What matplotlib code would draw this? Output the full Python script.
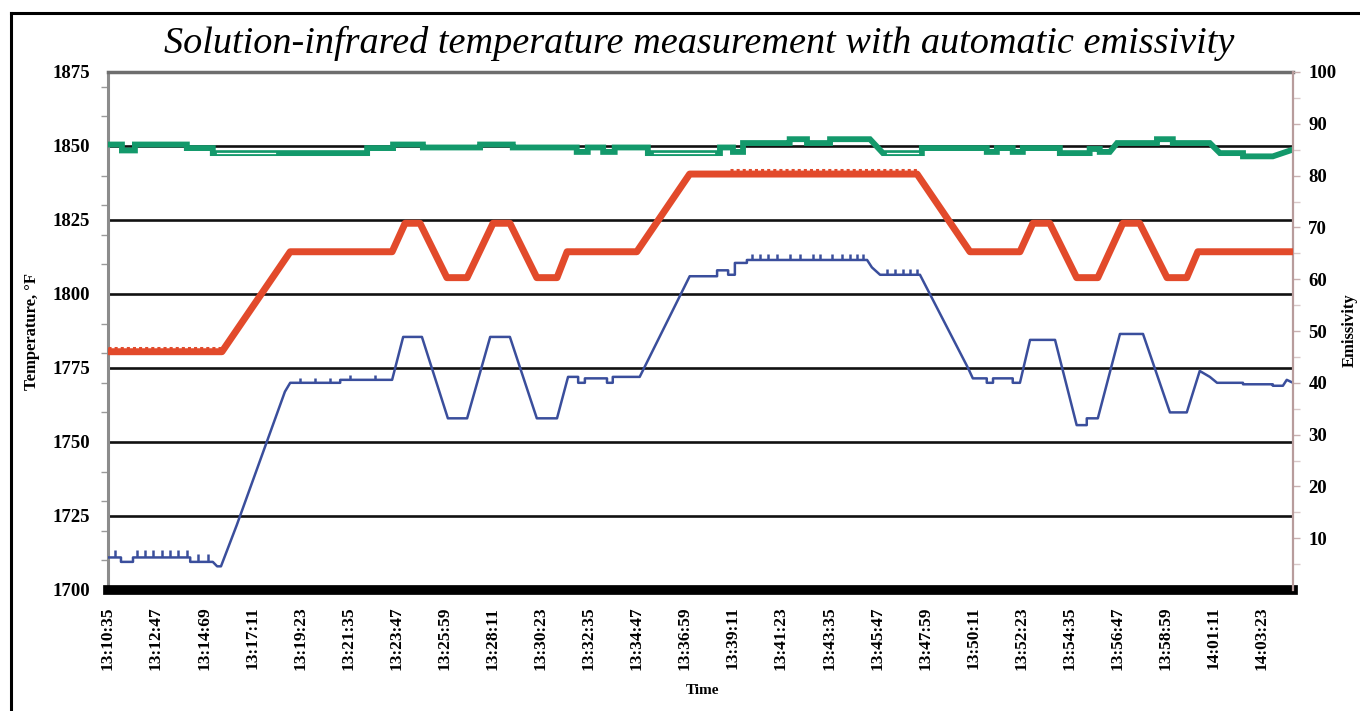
import matplotlib.pyplot as plt
from matplotlib.lines import Line2D

# x values are in units of one tick interval (2 min 12 s), 0 = 13:10:35
time_labels = ["13:10:35", "13:12:47", "13:14:69", "13:17:11", "13:19:23", "13:21:35",
               "13:23:47", "13:25:59", "13:28:11", "13:30:23", "13:32:35", "13:34:47",
               "13:36:59", "13:39:11", "13:41:23", "13:43:35", "13:45:47", "13:47:59",
               "13:50:11", "13:52:23", "13:54:35", "13:56:47", "13:58:59", "14:01:11",
               "14:03:23"]

# measured temperature (blue, left axis)
blue_t = [0, 0.27, 0.27, 0.52, 0.52, 1.71, 1.71, 2.18, 2.27, 2.35, 2.68, 3.68, 3.79,
          4.83, 4.83, 5.91, 6.14, 6.53, 7.07, 7.47, 7.95, 8.36, 8.92, 9.34, 9.57, 9.78,
          9.78, 9.92, 9.92, 10.38, 10.38, 10.50, 10.50, 11.06, 12.10, 12.67, 12.67,
          12.90, 12.90, 13.04, 13.04, 13.29, 13.29, 15.79, 15.89, 16.06, 16.89, 17.89,
          17.99, 18.28, 18.28, 18.41, 18.41, 18.82, 18.82, 18.97, 19.18, 19.70, 20.15,
          20.36, 20.36, 20.59, 21.05, 21.53, 22.09, 22.44, 22.71, 22.92, 23.07, 23.61,
          23.61, 24.23, 24.23, 24.44, 24.52, 24.65]
blue_v = [1711, 1711, 1709.5, 1709.5, 1711, 1711, 1709.5, 1709.5, 1708, 1708, 1722, 1767,
          1770, 1770, 1771, 1771, 1785.5, 1785.5, 1758, 1758, 1785.5, 1785.5, 1758, 1758,
          1772, 1772, 1770, 1770, 1771.5, 1771.5, 1770, 1770, 1772, 1772, 1806, 1806, 1808,
          1808, 1806.5, 1806.5, 1810.5, 1810.5, 1811.5, 1811.5, 1809, 1806.5, 1806.5, 1775,
          1771.5, 1771.5, 1770, 1770, 1771.5, 1771.5, 1770, 1770, 1784.5, 1784.5, 1755.7,
          1755.7, 1758, 1758, 1786.5, 1786.5, 1760, 1760, 1774, 1772, 1770, 1770, 1769.5,
          1769.5, 1769, 1769, 1771, 1770]

# small spikes on the blue trace
spike_t = [0.15, 0.60, 0.77, 0.94, 1.12, 1.29, 1.46, 1.64, 1.87, 2.08,
           3.99, 4.31, 4.62, 5.03, 5.55,
           13.39, 13.56, 13.73, 13.91, 14.18, 14.39, 14.66, 14.81, 15.06, 15.27, 15.43,
           15.58, 15.70, 16.20, 16.37, 16.53, 16.68, 16.83]
spike_lo = [1711] * 8 + [1709.5] * 2 + [1770] * 3 + [1771] * 2 + [1811.5] * 13 + [1806.5] * 5
spike_hi = [1713.5] * 8 + [1712] * 2 + [1771.5] * 3 + [1772.5] * 2 + [1813.5] * 13 + [1808.5] * 5

# emissivity (red, right axis)
red_t = [0, 2.37, 3.79, 5.91, 6.18, 6.49, 7.05, 7.47, 8.01, 8.36, 8.92, 9.34, 9.55, 11.00,
         12.10, 16.83, 17.93, 18.97, 19.24, 19.59, 20.15, 20.59, 21.11, 21.46, 22.03, 22.44,
         22.67, 24.65]
red_v = [46, 46, 65.3, 65.3, 70.8, 70.8, 60.3, 60.3, 70.8, 70.8, 60.3, 60.3, 65.3, 65.3,
         80.3, 80.3, 65.3, 65.3, 70.8, 70.8, 60.3, 60.3, 70.8, 70.8, 60.3, 60.3, 65.3, 65.3]
red_dot_start = [0, 12.94]
red_dot_end = [2.37, 16.83]
red_dot_level = [46, 80.3]

# setpoint / reference temperature (green, left axis)
green_t = [0, 0.29, 0.29, 0.56, 0.56, 1.64, 1.64, 2.18, 2.18, 5.39, 5.39, 5.93, 5.93, 6.55,
           6.55, 7.74, 7.74, 8.42, 8.42, 9.75, 9.75, 9.98, 9.98, 10.30, 10.30, 10.54, 10.54,
           11.23, 11.23, 12.73, 12.73, 13.00, 13.00, 13.21, 13.21, 14.18, 14.18, 14.54,
           14.54, 15.02, 15.02, 15.85, 16.12, 16.93, 16.93, 18.28, 18.28, 18.49, 18.49,
           18.82, 18.82, 19.03, 19.03, 19.80, 19.80, 20.42, 20.42, 20.63, 20.63, 20.84,
           20.99, 21.82, 21.82, 22.15, 22.15, 22.92, 23.13, 23.61, 23.61, 24.23, 24.65]
green_v = [1850.5, 1850.5, 1848.5, 1848.5, 1850.5, 1850.5, 1849.3, 1849.3, 1847.6, 1847.6,
           1849.3, 1849.3, 1850.5, 1850.5, 1849.5, 1849.5, 1850.5, 1850.5, 1849.5, 1849.5,
           1848, 1848, 1849.5, 1849.5, 1848, 1848, 1849.5, 1849.5, 1847.6, 1847.6, 1849.5,
           1849.5, 1848, 1848, 1851, 1851, 1852.3, 1852.3, 1851, 1851, 1852.3, 1852.3,
           1847.6, 1847.6, 1849.3, 1849.3, 1848, 1848, 1849.3, 1849.3, 1848, 1848, 1849.3,
           1849.3, 1847.6, 1847.6, 1849, 1849, 1848, 1848, 1851, 1851, 1852.3, 1852.3, 1851,
           1851, 1847.6, 1847.6, 1846.5, 1846.5, 1848.8]
hollow_start = [2.27, 11.35, 16.2]
hollow_end = [3.47, 12.6, 16.85]
hollow_level = [1847.6, 1847.6, 1847.6]

grid_levels = [1725, 1750, 1775, 1800, 1825, 1850]

serif = "Liberation Serif"

fig = plt.figure(figsize=(13.6, 7.11), dpi=100)
fig.patch.set_facecolor("white")
ax = fig.add_axes([108 / 1360, 1 - 590 / 711, (1293 - 108) / 1360, (590 - 72) / 711])
ax2 = ax.twinx()

for g in grid_levels:
    ax.axhline(g, color="#111111", lw=1.9, zorder=1)

ax.plot(green_t, green_v, color="#13996b", lw=4.2, zorder=3, solid_joinstyle="miter")
for s, e, lv in zip(hollow_start, hollow_end, hollow_level):
    ax.plot([s, e], [lv, lv], color="white", lw=0.9, zorder=4)
ax.plot(blue_t, blue_v, color="#3a4e9c", lw=1.8, zorder=3)
ax.vlines(spike_t, spike_lo, spike_hi, color="#3a4e9c", lw=1.8, zorder=3)

ax2.plot(red_t, red_v, color="#e24a2b", lw=5, zorder=3)
for s, e, lv in zip(red_dot_start, red_dot_end, red_dot_level):
    ax2.plot([s, e], [lv + 0.8, lv + 0.8], color="#e24a2b", lw=2.2,
             linestyle=(0, (1.0, 1.0)), zorder=3)

ax.set_xlim(0, 24.65)
ax.set_ylim(1700, 1875)
ax2.set_ylim(0, 100)

ax.set_xticks(range(len(time_labels)))
ax.set_xticklabels(time_labels, rotation=90, fontsize=12.5, fontweight="bold", family=serif)
ax.tick_params(axis="x", length=0, pad=12)

ax.set_yticks([1700, 1725, 1750, 1775, 1800, 1825, 1850, 1875])
ax.set_yticklabels(["1700", "1725", "1750", "1775", "1800", "1825", "1850", "1875"],
                   fontsize=13.5, fontweight="bold", family=serif)
ax.set_yticks(list(range(1710, 1875, 10)), minor=True)
ax.tick_params(axis="y", which="major", length=0, pad=13)
ax.tick_params(axis="y", which="minor", length=5, width=1, color="#9a9a9a")

ax2.set_yticks(list(range(10, 101, 10)))
ax2.set_yticklabels([str(v) for v in range(10, 101, 10)],
                    fontsize=13.5, fontweight="bold", family=serif)
ax2.set_yticks(list(range(5, 100, 10)), minor=True)
ax2.tick_params(axis="y", which="major", length=5, width=1, color="#c8b0b0", pad=6)
ax2.tick_params(axis="y", which="minor", length=5, width=1, color="#d8c8c8")

ax.spines["left"].set_color("#8c8c8c")
ax.spines["left"].set_linewidth(2.2)
ax.spines["top"].set_color("#6e6e6e")
ax.spines["top"].set_linewidth(2.5)
ax.spines["bottom"].set_color("black")
ax.spines["bottom"].set_linewidth(7)
ax.spines["right"].set_visible(False)
for sp in ["left", "top", "bottom"]:
    ax2.spines[sp].set_visible(False)
ax2.spines["right"].set_color("#b89c9c")
ax2.spines["right"].set_linewidth(1.6)

fig.text(699 / 1360, 1 - 43 / 711,
         "Solution-infrared temperature measurement with automatic emissivity",
         ha="center", va="center", fontsize=27.5, style="italic", family=serif)
fig.text(32 / 1360, 1 - 332 / 711, "Temperature, °F", rotation=90, ha="center", va="center",
         fontsize=12, fontweight="bold", family=serif)
fig.text(1350 / 1360, 1 - 330 / 711, "Emissivity", rotation=90, ha="center", va="center",
         fontsize=12, fontweight="bold", family=serif)
fig.text(702 / 1360, 1 - 690 / 711, "Time", ha="center", va="center",
         fontsize=11, fontweight="bold", family=serif)

fig.add_artist(Line2D([11 / 1360, 11 / 1360], [0, 1 - 13 / 711], color="black", lw=2.2,
                      transform=fig.transFigure))
fig.add_artist(Line2D([11 / 1360, 1], [1 - 13 / 711, 1 - 13 / 711], color="black", lw=2.2,
                      transform=fig.transFigure))

fig.savefig("out.png", dpi=100)
